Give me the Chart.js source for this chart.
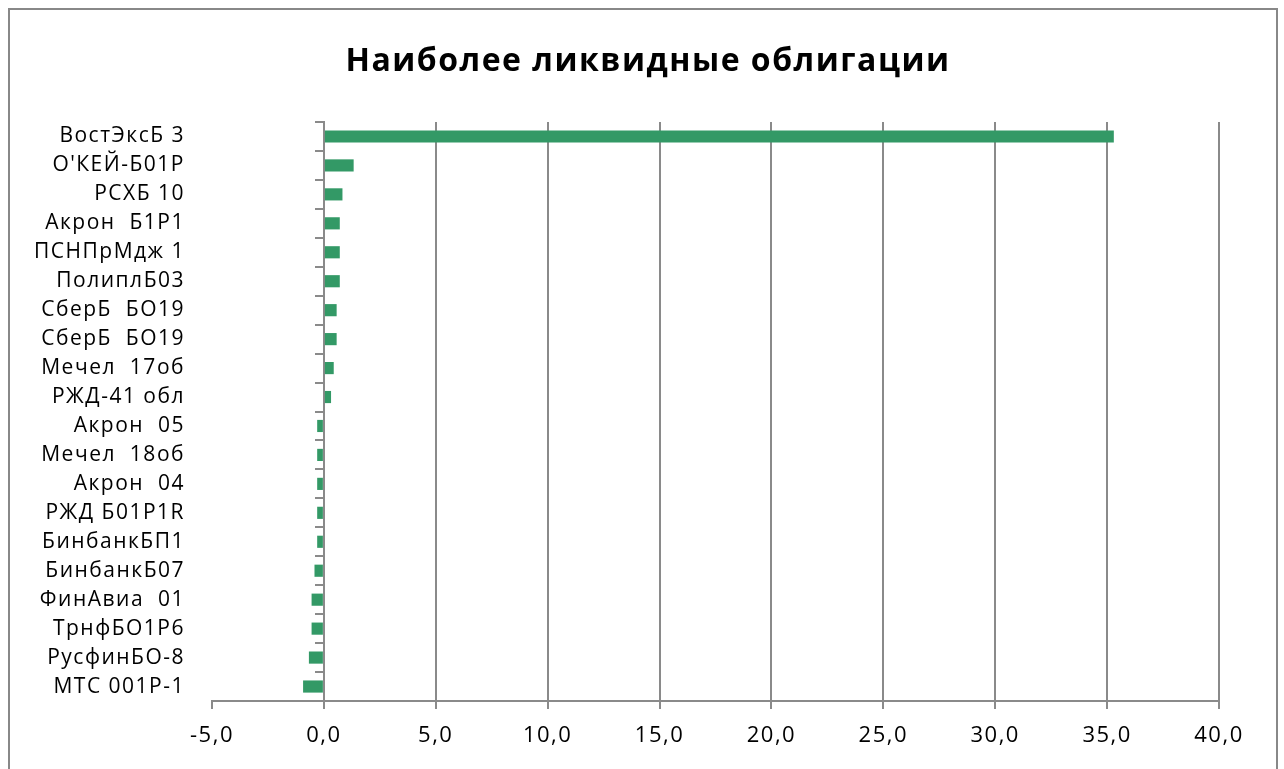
<!DOCTYPE html>
<html>
<head>
<meta charset="utf-8">
<script src="https://cdn.jsdelivr.net/npm/chart.js@4.4.1/dist/chart.umd.min.js"></script>
<style>
    body { margin: 0; background: #fff; }
    #frame { position: absolute; left: 8px; top: 8px; width: 1266px; height: 800px; border: 2px solid #888; }
    #wrap { position: absolute; left: 0; top: 0; width: 1284px; height: 769px; }
    #titulo {
        position: absolute; left: 0; top: 43px; width: 1296px; text-align: center;
        font: bold 32px/32px 'Open Sans', sans-serif; letter-spacing: 1.5px; color: #000;
    }
</style>
</head>
<body>
<div id="frame"></div>
<div id="wrap"><canvas id="grafico"></canvas></div>
<div id="titulo">Наиболее ликвидные облигации</div>
<script>
const categorias = [
    'ВостЭксБ 3', "О'КЕЙ-Б01Р", 'РСХБ 10', 'Акрон  Б1Р1', 'ПСНПрМдж 1',
    'ПолиплБ03', 'СберБ  БО19', 'СберБ  БО19', 'Мечел  17об', 'РЖД-41 обл',
    'Акрон  05', 'Мечел  18об', 'Акрон  04', 'РЖД Б01P1R', 'БинбанкБП1',
    'БинбанкБ07', 'ФинАвиа  01', 'ТрнфБО1Р6', 'РусфинБО-8', 'МТС 001P-1'
];
const valores = [
    35.3, 1.33, 0.83, 0.71, 0.71,
    0.71, 0.57, 0.57, 0.44, 0.32,
    -0.30, -0.30, -0.30, -0.30, -0.30,
    -0.42, -0.55, -0.55, -0.67, -0.93
];
const ejeMin = -5;
const ejeMax = 40;
const paso = 5;

const gris = '#8a8a8a';
const fuente = "'Open Sans', sans-serif";

// Excel spaces its letters a bit wider than canvas does
const espaciado = {
    id: 'espaciado',
    beforeLayout: c => { c.ctx.letterSpacing = '1.5px'; },
    beforeDraw: c => { c.ctx.letterSpacing = '1.5px'; }
};

const ctx = document.getElementById('grafico').getContext('2d');

new Chart(ctx, {
    type: 'bar',
    data: {
        labels: categorias,
        datasets: [{
            data: valores,
            backgroundColor: '#339966',
            borderWidth: 0,
            barPercentage: 0.42,
            categoryPercentage: 1
        }]
    },
    options: {
        indexAxis: 'y',
        responsive: true,
        maintainAspectRatio: false,
        animation: false,
        layout: { padding: { left: 0, right: 65, top: 122, bottom: 0 } },
        plugins: {
            legend: { display: false },
            tooltip: { enabled: false },
            title: { display: false }
        },
        scales: {
            x: {
                min: ejeMin,
                max: ejeMax,
                ticks: {
                    stepSize: paso,
                    color: '#000',
                    padding: 14,
                    font: { family: fuente, size: 22 },
                    callback: v => v.toFixed(1).replace('.', ',')
                },
                grid: {
                    color: c => (c.tick && c.tick.value === ejeMin) ? 'rgba(0,0,0,0)' : gris,
                    tickColor: gris,
                    lineWidth: 2,
                    tickLength: 8
                },
                border: { display: true, color: gris, width: 2 },
                afterFit: s => { s.height = 68; }
            },
            y: {
                offset: true,
                ticks: {
                    color: '#000',
                    padding: 27,
                    font: { family: fuente, size: 21 }
                },
                grid: { display: false, drawTicks: false },
                border: { display: false },
                afterFit: s => { s.width = 212; }
            },
            y2: {
                type: 'category',
                axis: 'y',
                labels: categorias,
                position: { x: 0 },
                offset: true,
                ticks: { display: false },
                grid: {
                    offset: true,
                    drawOnChartArea: false,
                    color: gris,
                    lineWidth: 2,
                    tickLength: 8
                },
                border: { display: true, color: gris, width: 2 }
            }
        }
    },
    plugins: [espaciado]
});
</script>
</body>
</html>
